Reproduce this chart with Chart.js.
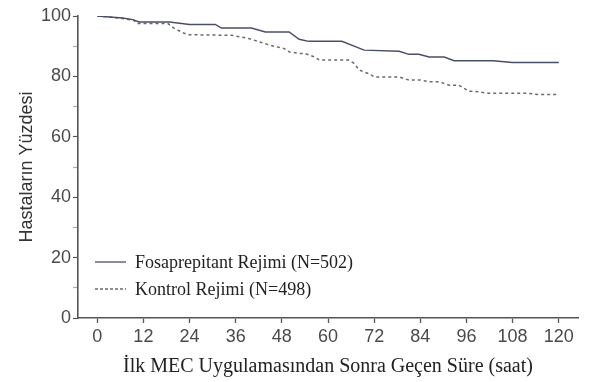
<!DOCTYPE html>
<html>
<head>
<meta charset="utf-8">
<script src="https://cdn.jsdelivr.net/npm/chart.js@4/dist/chart.umd.min.js"></script>
<style>
  html, body { margin: 0; padding: 0; background: #fff; }
  #wrap { width: 602px; height: 382px; }
</style>
</head>
<body>
<div id="wrap"><canvas id="c" width="602" height="382"></canvas></div>
<script>
// ---- data ----
const fosHours = [0, 6.6, 9.2, 10.9, 18.8, 24, 30.7, 32.3, 40.1, 43.7, 49.9, 52.5, 55, 63.6, 69.4, 78.5, 81, 83.6, 86.3, 90.2, 92.8, 103, 107.9, 120];
const fosPct   = [100, 99.3, 98.8, 98.0, 98.0, 97.2, 97.2, 96.0, 96.0, 94.7, 94.7, 92.3, 91.6, 91.6, 88.7, 88.3, 87.3, 87.3, 86.4, 86.4, 85.2, 85.2, 84.6, 84.6];

const ctrlHours = [0, 6, 9.5, 10.3, 18.4, 20, 22.6, 23.7, 35, 39.6, 42.2, 45, 48.6, 50, 52.5, 54, 56.4, 57.8, 65.4, 66.8, 68.1, 71, 72, 78.5, 81, 84, 86.3, 88.9, 91.5, 94, 96.6, 97.9, 101.8, 112, 114.6, 120];
const ctrlPct   = [100, 99.3, 98.6, 97.5, 97.5, 95.9, 94.3, 93.8, 93.6, 92.5, 91.4, 90.3, 89.2, 88.1, 87.6, 87.6, 86.5, 85.4, 85.4, 84.3, 82.1, 80.7, 79.8, 79.8, 78.8, 78.8, 78.2, 78.2, 77.1, 77.1, 75.1, 75.1, 74.4, 74.4, 74.0, 74.0];

const seriesNames = ["Fosaprepitant Rejimi (N=502)", "Kontrol Rejimi (N=498)"];
const xTickValues = [0, 12, 24, 36, 48, 60, 72, 84, 96, 108, 120];
const yTickLabels = [0, 20, 40, 60, 80, 100];
const xTitle = "İlk MEC Uygulamasından Sonra Geçen Süre (saat)";
const yTitle = "Hastaların Yüzdesi";

const toPts = (xs, ys) => xs.map((x, i) => ({ x: x, y: ys[i] }));

const legendPlugin = {
  id: 'insideLegend',
  afterDraw(chart) {
    const ctx = chart.ctx;
    const ca = chart.chartArea;
    const rows = [ca.bottom - 56, ca.bottom - 29];
    ctx.save();
    chart.data.datasets.forEach((ds, i) => {
      const y = rows[i];
      ctx.beginPath();
      ctx.strokeStyle = ds.borderColor;
      ctx.lineWidth = 1.3;
      ctx.setLineDash(i === 0 ? [] : [3, 2]);
      ctx.moveTo(ca.left + 17, y);
      ctx.lineTo(ca.left + 48, y);
      ctx.stroke();
      ctx.setLineDash([]);
      ctx.fillStyle = '#222';
      ctx.font = '18px "Liberation Serif", "Times New Roman", serif';
      ctx.textBaseline = 'middle';
      ctx.textAlign = 'left';
      ctx.fillText(ds.label, ca.left + 57, y + 1);
    });
    ctx.restore();
  }
};

const tickFont = { family: '"Liberation Sans Narrow", "Liberation Sans", Arial, sans-serif', size: 18 };

new Chart(document.getElementById('c'), {
  type: 'line',
  data: {
    datasets: [
      {
        label: seriesNames[0],
        data: toPts(fosHours, fosPct),
        borderColor: '#4b4e68',
        borderWidth: 1.5,
        pointRadius: 0,
        tension: 0,
        fill: false
      },
      {
        label: seriesNames[1],
        data: toPts(ctrlHours, ctrlPct),
        borderColor: '#6a6a72',
        borderWidth: 1.5,
        borderDash: [3, 3],
        pointRadius: 0,
        tension: 0,
        fill: false
      }
    ]
  },
  options: {
    responsive: false,
    animation: false,
    devicePixelRatio: 1,
    layout: { padding: { left: 0, right: 24, top: 16, bottom: 0 } },
    plugins: {
      legend: { display: false },
      tooltip: { enabled: false }
    },
    scales: {
      x: {
        type: 'linear',
        min: -5,
        max: 125,
        afterBuildTicks: (s) => { s.ticks = xTickValues.map(v => ({ value: v })); },
        afterFit: (s) => { s.height = 64; },
        border: { display: true, color: '#555', width: 1.6 },
        grid: { drawOnChartArea: false, drawTicks: true, tickLength: 5, color: '#555', tickWidth: 1.3 },
        ticks: { color: '#4a4a4a', font: tickFont, padding: 3, maxRotation: 0, autoSkip: false },
        title: {
          display: true,
          text: xTitle,
          color: '#222',
          font: { family: '"Liberation Serif", "Times New Roman", serif', size: 20 },
          padding: { top: 0, bottom: 3 }
        }
      },
      y: {
        type: 'linear',
        min: 0,
        max: 100,
        afterFit: (s) => { s.width = 78; },
        border: { display: true, color: '#555', width: 1.6 },
        grid: {
          drawOnChartArea: false,
          drawTicks: true,
          tickLength: 5,
          tickWidth: 1.2,
          tickColor: (ctx) => (ctx.tick && yTickLabels.includes(ctx.tick.value)) ? '#555' : '#aaa'
        },
        ticks: {
          stepSize: 10,
          color: '#4a4a4a',
          font: tickFont,
          padding: 2,
          autoSkip: false,
          callback: (v) => yTickLabels.includes(v) ? String(v) : ''
        },
        title: {
          display: true,
          text: yTitle,
          color: '#333',
          font: { family: '"Liberation Sans", Arial, sans-serif', size: 18 },
          padding: { top: 16, bottom: 0 }
        }
      }
    }
  },
  plugins: [legendPlugin]
});
</script>
</body>
</html>
